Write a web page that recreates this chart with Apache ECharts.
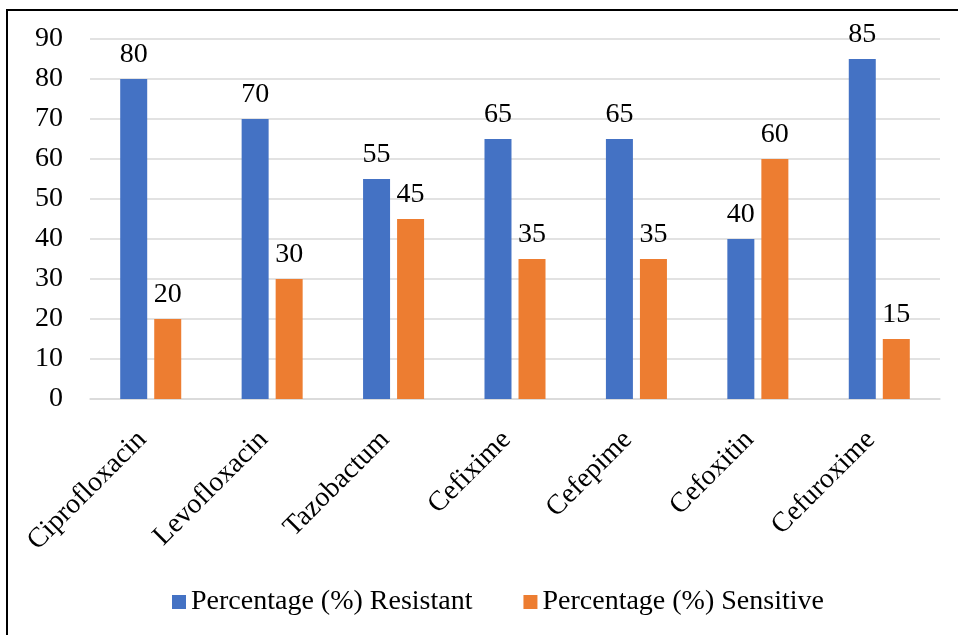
<!DOCTYPE html>
<html><head><meta charset="utf-8">
<script src="https://cdn.jsdelivr.net/npm/echarts@6/dist/echarts.min.js"></script>
<style>html,body{margin:0;padding:0;background:#fff}#c{width:958px;height:635px}</style>
</head><body><div id="c"></div>
<script>
const categories = ['Ciprofloxacin','Levofloxacin','Tazobactum','Cefixime','Cefepime','Cefoxitin','Cefuroxime'];
const resistant = [80,70,55,65,65,40,85];
const sensitive = [20,30,45,35,35,60,15];
const seriesNames = ['Percentage (%) Resistant','Percentage (%) Sensitive'];
const FONT = '"Liberation Serif","Times New Roman",serif';
const chart = echarts.init(document.getElementById('c'));
chart.setOption({
  animation:false,
  graphic:[{type:'polyline',shape:{points:[[7,640],[7,10],[960,10]]},style:{stroke:'#000',lineWidth:2,fill:null},z:10}],
  grid:{left:90,right:18,top:39,bottom:236,containLabel:false},
  legend:{top:583,left:167,itemWidth:14,itemHeight:14,itemGap:51,icon:'rect',
    textStyle:{fontFamily:FONT,fontSize:28,color:'#000'},data:seriesNames},
  xAxis:{type:'category',data:categories,
    axisLine:{lineStyle:{color:'#d9d9d9',width:1.5}},axisTick:{show:false},
    axisLabel:{rotate:45,fontFamily:FONT,fontSize:28,color:'#000',margin:28,padding:[0,12,0,0],interval:0}},
  yAxis:{type:'value',min:0,max:90,interval:10,
    axisLine:{show:false},axisTick:{show:false},
    splitLine:{lineStyle:{color:'#d9d9d9',width:1.5}},
    axisLabel:{fontFamily:FONT,fontSize:28,color:'#000',margin:27}},
  series:[
    {name:seriesNames[0],type:'bar',data:resistant,barWidth:27,barGap:'26%',
     itemStyle:{color:'#4472c4'},
     label:{show:true,position:'top',distance:10,fontFamily:FONT,fontSize:28,color:'#000'}},
    {name:seriesNames[1],type:'bar',data:sensitive,barWidth:27,
     itemStyle:{color:'#ed7d31'},
     label:{show:true,position:'top',distance:10,fontFamily:FONT,fontSize:28,color:'#000'}}
  ]
});
</script></body></html>
